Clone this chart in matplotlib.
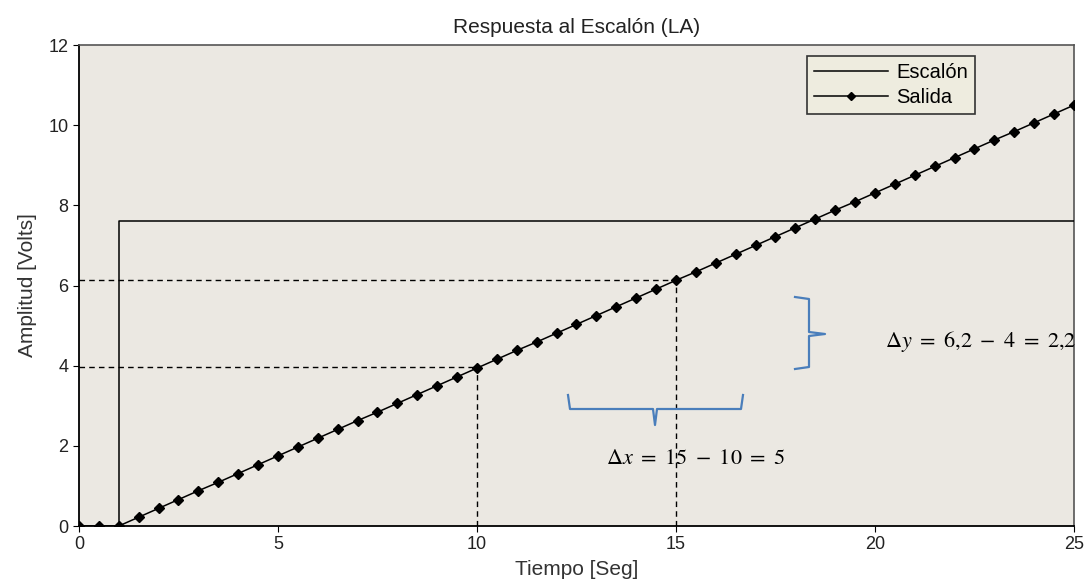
import numpy as np
import matplotlib
matplotlib.use('Agg')
import matplotlib.pyplot as plt

# Step input
t_step = [0, 1, 1, 25]
v_step = [0, 0, 7.6, 7.6]

# Output sampled every 0.5 s
t_out = [i * 0.5 for i in range(51)]
v_out = [0, 0, 0,
         0.22, 0.44, 0.66, 0.88, 1.09, 1.31, 1.53, 1.75, 1.97, 2.19,
         2.41, 2.63, 2.84, 3.06, 3.28, 3.50, 3.72, 3.94, 4.16, 4.38,
         4.59, 4.81, 5.03, 5.25, 5.47, 5.69, 5.91, 6.13, 6.34, 6.56,
         6.78, 7.00, 7.22, 7.44, 7.66, 7.88, 8.09, 8.31, 8.53, 8.75,
         8.97, 9.19, 9.41, 9.63, 9.84, 10.06, 10.28, 10.50]

# Reference readings
x_marks = [10, 15]
y_marks = [3.97, 6.13]

x_ticks = [0, 5, 10, 15, 20, 25]
y_ticks = [0, 2, 4, 6, 8, 10, 12]

plt.rcParams['font.family'] = ['Liberation Sans', 'DejaVu Sans']
plt.rcParams['mathtext.fontset'] = 'stix'

fig = plt.figure(figsize=(10.86, 5.87), dpi=100)
ax = fig.add_axes([0.0727, 0.1039, 0.9162, 0.8194])
ax.set_facecolor('#ebe8e2')

ax.plot(t_step, v_step, color='black', lw=1.1, label='Escalón', zorder=3)
ax.plot(t_out, v_out, color='black', lw=1.1, marker='D', markersize=4.8,
        label='Salida', zorder=4)

for xm, ym in zip(x_marks, y_marks):
    ax.plot([0, xm], [ym, ym], color='black', lw=1, ls=(0, (4, 3)), zorder=2)
    ax.plot([xm, xm], [0, ym], color='black', lw=1, ls=(0, (4, 3)), zorder=2)

ax.set_xlim(0, 25)
ax.set_ylim(0, 12)
ax.set_xticks(x_ticks)
ax.set_yticks(y_ticks)
ax.tick_params(direction='out', length=4, labelsize=13, colors='black', labelcolor='#222222')
for s in ['top', 'right']:
    ax.spines[s].set_color('#555555')
    ax.spines[s].set_linewidth(1.2)
for s in ['left', 'bottom']:
    ax.spines[s].set_linewidth(1.3)

ax.set_title('Respuesta al Escalón (LA)', fontsize=15, color='#222222', pad=9)
ax.set_xlabel('Tiempo [Seg]', fontsize=15, color='#333333', labelpad=5)
ax.set_ylabel('Amplitud [Volts]', fontsize=15, color='#333333', labelpad=8)

leg = ax.legend(loc='upper right', bbox_to_anchor=(0.9005, 0.977), fontsize=14.5,
                handlelength=3.7, frameon=True, fancybox=False, borderpad=0.35,
                borderaxespad=0, labelspacing=0.3, handletextpad=0.4)
leg.get_frame().set_facecolor('#eeecdf')
leg.get_frame().set_edgecolor('#333333')
leg.get_frame().set_linewidth(1.2)
leg.get_frame().set_alpha(1)
for h in leg.legend_handles:
    h.set_markersize(4.5)


# Braces in figure pixel coordinates (from top-left)
def px(x, y):
    return (x / 1086, 1 - y / 587)


blue = '#4a7ebb'
# horizontal brace
hb = [px(568, 395), px(570, 409), px(653, 409), px(655, 425),
      px(657, 409), px(741, 409), px(743, 395)]
# vertical brace
vb = [px(795, 297), px(809, 299), px(809, 332), px(825, 334),
      px(809, 336), px(809, 367), px(795, 369)]
for pts in (hb, vb):
    xs, ys = zip(*pts)
    fig.add_artist(plt.Line2D(xs, ys, color=blue, lw=1.6, transform=fig.transFigure))

fig.text(885 / 1086, 1 - 341 / 587, r'$\Delta y\ =\ 6{,}2\ -\ 4\ =\ 2{,}2$', fontsize=16,
         va='center', ha='left', color='black')
fig.text(606 / 1086, 1 - 459 / 587, r'$\Delta x\ =\ 15\ -\ 10\ =\ 5$', fontsize=16,
         va='center', ha='left', color='black')

fig.savefig('out.png', dpi=100)
